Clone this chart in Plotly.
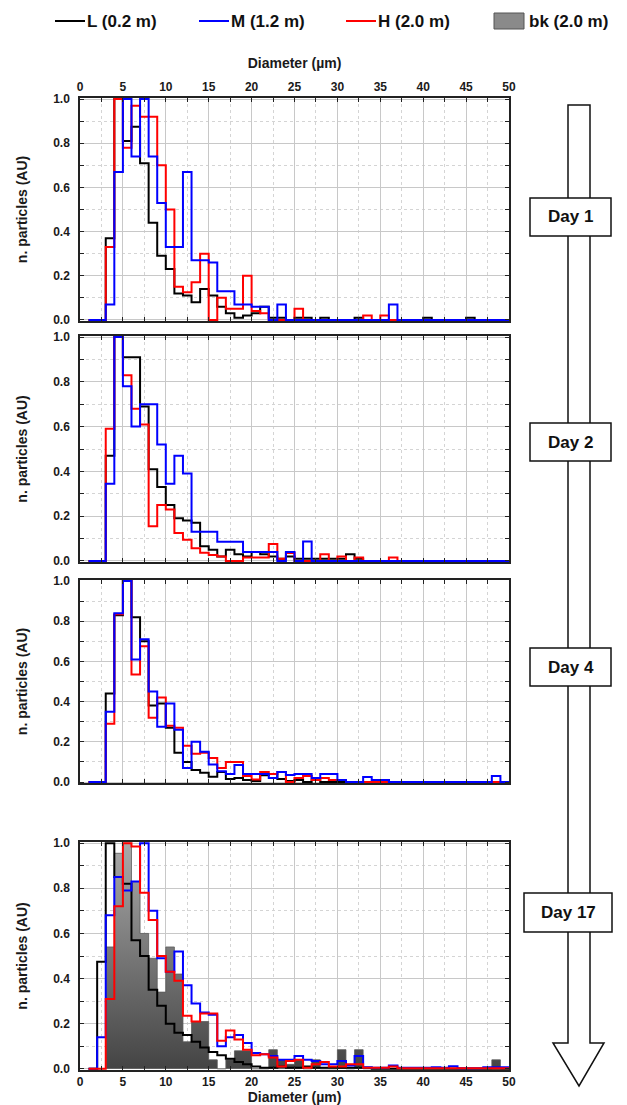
import plotly.graph_objects as go

# ---------------- data (bins of 1 µm, left edges 1..49) ----------------
bin_edges = list(range(1, 51))

L1 = [0, 0, 0.37, 1.0, 0.81, 0.875, 0.71, 0.44, 0.29, 0.23,
      0.12, 0.11, 0.08, 0.14, 0.11, 0.06, 0.03, 0.01, 0.02, 0.03,
      0.06, 0.01, 0.01, 0, 0.01, 0.01, 0, 0.01, 0, 0,
      0, 0.01, 0, 0, 0, 0, 0, 0, 0, 0.01,
      0, 0, 0, 0, 0.01, 0, 0, 0, 0]
M1 = [0, 0, 0.07, 0.67, 1.0, 0.74, 1.0, 0.74, 0.53, 0.33,
      0.33, 0.67, 0.27, 0.27, 0.26, 0.13, 0.13, 0.07, 0.07, 0.06,
      0.06, 0, 0.07, 0, 0, 0, 0, 0, 0, 0,
      0, 0, 0, 0, 0, 0.07, 0, 0, 0, 0,
      0, 0, 0, 0, 0, 0, 0, 0, 0]
H1 = [0, 0, 0.33, 1.0, 0.78, 0.97, 0.92, 0.92, 0.70, 0.50,
      0.15, 0.125, 0.17, 0.30, 0, 0.10, 0.05, 0.05, 0.20, 0.04,
      0.03, 0, 0, 0, 0.05, 0, 0, 0, 0, 0,
      0, 0, 0.02, 0, 0.02, 0, 0, 0, 0, 0,
      0, 0, 0, 0, 0, 0, 0, 0, 0]

L2 = [0, 0, 0.47, 1.0, 0.91, 0.91, 0.69, 0.41, 0.33, 0.25,
      0.19, 0.18, 0.17, 0.065, 0.05, 0.02, 0.05, 0.03, 0.02, 0.04,
      0.03, 0.02, 0.01, 0.02, 0.01, 0.01, 0.01, 0.01, 0.01, 0.01,
      0.03, 0.01, 0, 0, 0, 0, 0, 0, 0, 0,
      0, 0, 0, 0, 0, 0, 0, 0, 0]
M2 = [0, 0, 0.345, 1.0, 0.78, 0.60, 0.70, 0.70, 0.52, 0.345,
      0.47, 0.39, 0.13, 0.13, 0.13, 0.085, 0.085, 0.085, 0.04, 0.04,
      0.04, 0.04, 0, 0.04, 0, 0.087, 0, 0, 0, 0,
      0, 0, 0, 0, 0, 0, 0, 0, 0, 0,
      0, 0, 0, 0, 0, 0, 0, 0, 0]
H2 = [0, 0, 0.59, 1.0, 0.83, 0.68, 0.61, 0.155, 0.25, 0.23,
      0.125, 0.094, 0.056, 0.036, 0.026, 0.02, 0, 0, 0.015, 0.015,
      0.015, 0.075, 0.01, 0.035, 0, 0, 0, 0.03, 0, 0.02,
      0, 0.015, 0, 0, 0, 0.015, 0, 0, 0, 0,
      0, 0, 0, 0, 0, 0, 0, 0, 0]

L3 = [0, 0, 0.44, 0.83, 1.0, 0.82, 0.70, 0.38, 0.39, 0.27,
      0.145, 0.10, 0.06, 0.046, 0.026, 0.05, 0.015, 0.02, 0.01, 0.005,
      0.034, 0.04, 0.015, 0.005, 0.01, 0, 0.01, 0, 0, 0,
      0, 0, 0, 0, 0.01, 0, 0, 0, 0, 0,
      0, 0, 0, 0, 0, 0, 0, 0, 0]
M3 = [0, 0, 0.35, 0.84, 1.0, 0.61, 0.71, 0.45, 0.275, 0.39,
      0.26, 0.07, 0.20, 0.15, 0.087, 0.053, 0.04, 0.084, 0.04, 0.04,
      0.04, 0.02, 0.05, 0.035, 0.04, 0.04, 0.02, 0.04, 0.04, 0.01,
      0, 0, 0.025, 0.01, 0.01, 0, 0, 0, 0, 0,
      0, 0, 0, 0, 0, 0, 0, 0.03, 0]
H3 = [0, 0, 0.29, 0.835, 1.0, 0.535, 0.675, 0.32, 0.42, 0.28,
      0.27, 0.18, 0.14, 0.145, 0.12, 0.07, 0.10, 0.10, 0.03, 0.012,
      0.05, 0.04, 0.05, 0, 0.02, 0.03, 0.01, 0.02, 0.01, 0.01,
      0, 0, 0, 0, 0, 0, 0, 0, 0, 0,
      0, 0, 0, 0, 0, 0, 0, 0, 0]

L4 = [0, 0.475, 1.0, 0.85, 0.82, 0.57, 0.50, 0.35, 0.28, 0.20,
      0.16, 0.15, 0.12, 0.095, 0.075, 0.06, 0.045, 0.03, 0.02, 0.01,
      0.005, 0.005, 0.01, 0.005, 0.005, 0.01, 0.005, 0.005, 0.005, 0.005,
      0.005, 0.005, 0.005, 0, 0, 0, 0, 0, 0, 0,
      0, 0, 0, 0, 0, 0, 0, 0, 0]
M4 = [0, 0.14, 0.68, 0.85, 0.79, 0.83, 1.0, 0.70, 0.49, 0.43,
      0.52, 0.37, 0.29, 0.25, 0.24, 0.10, 0.14, 0.15, 0.115, 0.07,
      0.065, 0.057, 0.04, 0.04, 0.057, 0.04, 0.035, 0.02, 0.02, 0.035,
      0.015, 0.057, 0.007, 0.005, 0.005, 0.015, 0.005, 0.005, 0.005, 0.005,
      0.007, 0.005, 0.012, 0.003, 0.003, 0.003, 0.007, 0.007, 0.007]
H4 = [0, 0, 0.31, 0.72, 1.0, 0.985, 0.78, 0.66, 0.50, 0.43,
      0.39, 0.235, 0.21, 0.245, 0.245, 0.125, 0.17, 0.13, 0.085, 0.06,
      0.065, 0.05, 0.01, 0.035, 0.04, 0.005, 0.02, 0.03, 0.01, 0.01,
      0.02, 0.02, 0.005, 0.005, 0.005, 0.01, 0.003, 0.003, 0.003, 0.003,
      0.003, 0.003, 0.003, 0.003, 0.003, 0.003, 0.003, 0.003, 0.003]
BK4 = [0, 0, 0.54, 0.955, 1.0, 0.83, 0.60, 0.49, 0.34, 0.54,
       0.42, 0.12, 0.21, 0.21, 0.04, 0, 0.04, 0.08, 0.08, 0,
       0, 0.085, 0.04, 0.02, 0.04, 0, 0.04, 0, 0, 0.085,
       0, 0.085, 0, 0, 0, 0, 0, 0, 0, 0,
       0, 0, 0, 0, 0, 0, 0, 0.04, 0]

series_names = ["L (0.2 m)", "M (1.2 m)", "H (2.0 m)", "bk (2.0 m)"]
day_labels = ["Day 1", "Day 2", "Day 4", "Day 17"]
x_ticks = [0, 5, 10, 15, 20, 25, 30, 35, 40, 45, 50]
y_ticks = [0.0, 0.2, 0.4, 0.6, 0.8, 1.0]

panel_data = [
    [("L", L1), ("H", H1), ("M", M1)],
    [("L", L2), ("H", H2), ("M", M2)],
    [("L", L3), ("H", H3), ("M", M3)],
    [("L", L4), ("M", M4), ("H", H4)],
]

# ---------------- layout geometry (pixels) ----------------
W, H = 627, 1105
def px(x): return x / W
def py(y): return 1 - y / H

X0, X1 = 80, 509
panels = [(98, 321), (336, 562), (580, 783), (842, 1070)]

COL = {"L": "#000000", "M": "#0000ff", "H": "#ff0000"}
FONT = "Liberation Sans, Arial, sans-serif"

fig = go.Figure()

for i, series in enumerate(panel_data):
    n = i + 1
    xr = "x" if n == 1 else f"x{n}"
    yr = "y" if n == 1 else f"y{n}"
    if n == 4:
        fig.add_trace(go.Scatter(
            x=bin_edges, y=BK4 + [0], mode="lines",
            line=dict(color="#5a5a5a", width=0.8, shape="hv"),
            fill="tozeroy",
            fillgradient=dict(type="vertical", start=0, stop=1,
                              colorscale=[[0, "#444444"], [1, "#aaaaaa"]]),
            xaxis=xr, yaxis=yr, showlegend=False, name=series_names[3]))
    for key, vals in series:
        fig.add_trace(go.Scatter(
            x=bin_edges, y=vals + [0], mode="lines",
            line=dict(color=COL[key], width=2, shape="hv"),
            xaxis=xr, yaxis=yr, showlegend=False,
            name=series_names["LMH".index(key)]))

tickfont = dict(family=FONT, size=12, color="#1a1a1a", weight="bold")
titlefont = dict(family=FONT, size=14, color="#1a1a1a", weight="bold")

layout = dict(
    width=W, height=H, margin=dict(l=0, r=0, t=0, b=0, autoexpand=False),
    paper_bgcolor="white", plot_bgcolor="white", showlegend=False,
)

for i, (top, bot) in enumerate(panels):
    n = i + 1
    xk = "xaxis" if n == 1 else f"xaxis{n}"
    yk = "yaxis" if n == 1 else f"yaxis{n}"
    xa = dict(
        domain=[px(X0), px(X1)], range=[0, 50], anchor="y" if n == 1 else f"y{n}",
        automargin=False,
        tickmode="array", tickvals=x_ticks, ticks="inside", ticklen=4,
        tickwidth=1, tickcolor="#222",
        showline=True, linecolor="#222", linewidth=1.5, mirror="ticks",
        showgrid=True, gridcolor="#c8c8c8", gridwidth=1.2,
        minor=dict(dtick=2.5, tick0=0, ticks="inside", ticklen=4, tickcolor="#222",
                   showgrid=True, gridcolor="#d4d4d4", griddash="dot", gridwidth=1),
        zeroline=False, tickfont=tickfont, showticklabels=(n in (1, 4)),
    )
    if n == 1:
        xa["side"] = "top"
        xa["title"] = dict(text="Diameter (µm)", font=titlefont, standoff=9)
    if n == 4:
        xa["title"] = dict(text="Diameter (µm)", font=titlefont, standoff=2)
    ya = dict(
        domain=[py(bot), py(top)], range=[-0.005, 1.005],
        anchor="x" if n == 1 else f"x{n}", automargin=False,
        tickmode="array", tickvals=y_ticks, tickformat=".1f",
        ticks="inside", ticklen=4, tickwidth=1, tickcolor="#222",
        showline=True, linecolor="#222", linewidth=1.5, mirror="ticks",
        showgrid=True, gridcolor="#c8c8c8", gridwidth=1.2,
        minor=dict(dtick=0.1, tick0=0, ticks="inside", ticklen=4, tickcolor="#222",
                   showgrid=True, gridcolor="#d4d4d4", griddash="dot", gridwidth=1),
        zeroline=False, tickfont=tickfont, ticklabelstandoff=6,
        title=dict(text="n. particles (AU)", font=titlefont, standoff=22),
    )
    layout[xk] = xa
    layout[yk] = ya

fig.update_layout(**layout)

# ---------------- legend (manual, top) ----------------
shapes = []
annotations = []
leg_y = 21
leg_items = [(55, "line", "#000000"), (199, "line", "#0000ff"),
             (346, "line", "#ff0000"), (494, "box", "#8a8a8a")]
for (x, kind, c), label in zip(leg_items, series_names):
    if kind == "line":
        shapes.append(dict(type="line", xref="paper", yref="paper",
                           x0=px(x), x1=px(x + 30), y0=py(leg_y), y1=py(leg_y),
                           line=dict(color=c, width=2)))
        tx = x + 30
    else:
        shapes.append(dict(type="rect", xref="paper", yref="paper",
                           x0=px(x), x1=px(x + 30), y0=py(leg_y + 8), y1=py(leg_y - 8),
                           fillcolor=c, line=dict(color="#555", width=1)))
        tx = x + 33
    annotations.append(dict(text=label, xref="paper", yref="paper",
                            x=px(tx), y=py(leg_y), xanchor="left", yanchor="middle",
                            showarrow=False,
                            font=dict(family=FONT, size=17, color="#111", weight="bold")))

# ---------------- time arrow on right ----------------
ax0, ax1 = 568, 590
a_top, a_base, a_tip = 105, 1043, 1086
hx0, hx1 = 553, 604
path = (f"M {px(ax0)},{py(a_top)} L {px(ax1)},{py(a_top)} L {px(ax1)},{py(a_base)} "
        f"L {px(hx1)},{py(a_base)} L {px((ax0 + ax1) / 2)},{py(a_tip)} "
        f"L {px(hx0)},{py(a_base)} L {px(ax0)},{py(a_base)} Z")
shapes.append(dict(type="path", xref="paper", yref="paper", path=path,
                   fillcolor="white", line=dict(color="#111", width=1.5)))
boxes = [(530, 611, 198, 236), (530, 611, 423, 461), (530, 611, 648, 686), (524, 612, 893, 932)]
for (bx0, bx1, by0, by1), lab in zip(boxes, day_labels):
    shapes.append(dict(type="rect", xref="paper", yref="paper",
                       x0=px(bx0), x1=px(bx1), y0=py(by1), y1=py(by0),
                       fillcolor="white", line=dict(color="#111", width=1.5)))
    annotations.append(dict(text=lab, xref="paper", yref="paper",
                            x=px((bx0 + bx1) / 2), y=py((by0 + by1) / 2),
                            xanchor="center", yanchor="middle", showarrow=False,
                            font=dict(family=FONT, size=17, color="#111", weight="bold")))

fig.update_layout(shapes=shapes, annotations=annotations)
fig.write_html("out.html", config={"displayModeBar": False},
               post_script="document.body.style.margin='0px';")
